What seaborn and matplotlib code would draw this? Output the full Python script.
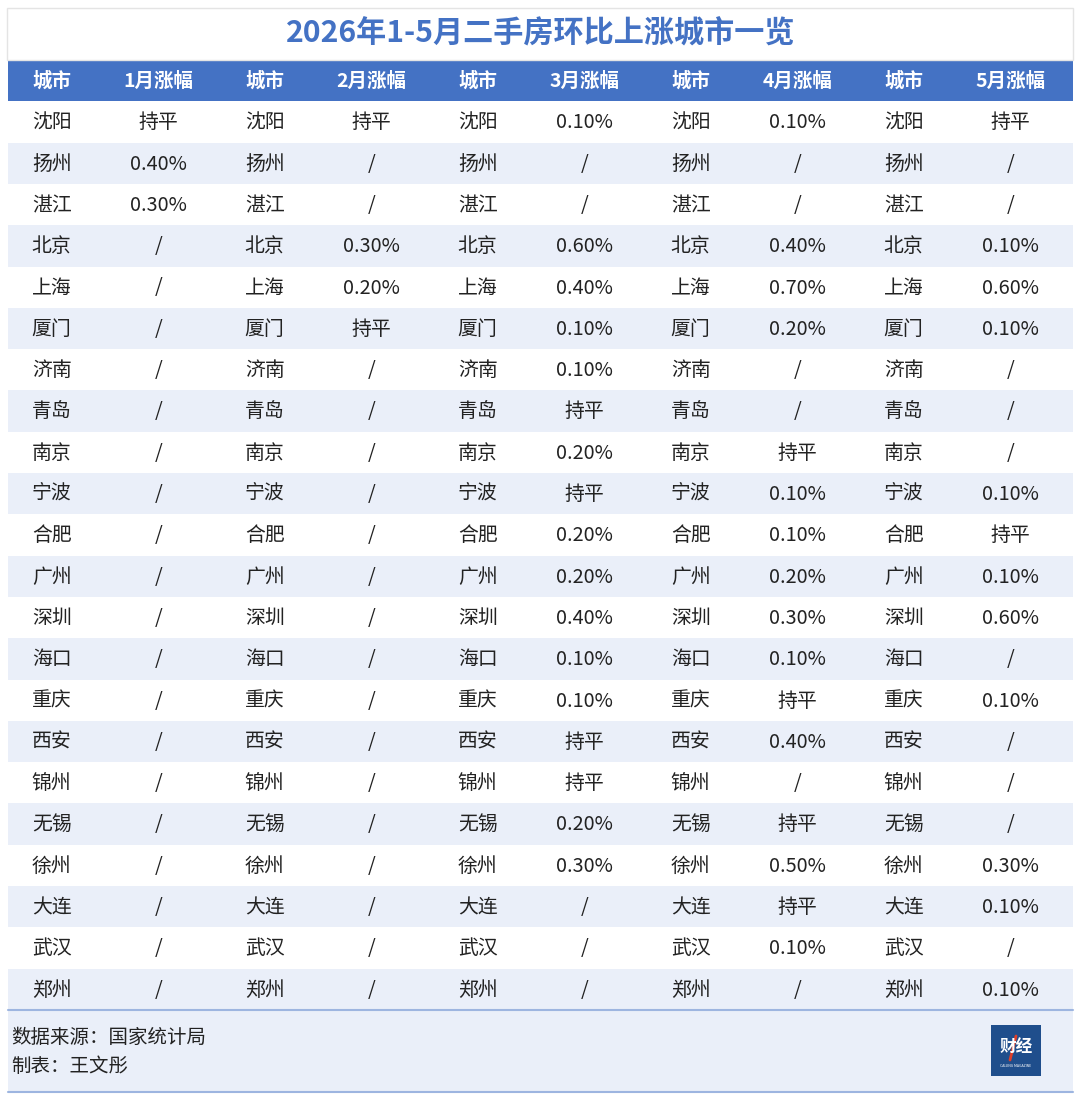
import numpy as np
import seaborn as sns
import matplotlib.pyplot as plt
from matplotlib.colors import ListedColormap
from matplotlib.patches import Rectangle

sns.set_style("white")
plt.rcParams['font.family'] = ['Noto Sans CJK SC', 'DejaVu Sans']

title = "2026年1-5月二手房环比上涨城市一览"
months = ["1月涨幅", "2月涨幅", "3月涨幅", "4月涨幅", "5月涨幅"]
cities = ["沈阳", "扬州", "湛江", "北京", "上海", "厦门", "济南", "青岛", "南京", "宁波", "合肥",
          "广州", "深圳", "海口", "重庆", "西安", "锦州", "无锡", "徐州", "大连", "武汉", "郑州"]
jan = ["持平", "0.40%", "0.30%", "/", "/", "/", "/", "/", "/", "/", "/",
       "/", "/", "/", "/", "/", "/", "/", "/", "/", "/", "/"]
feb = ["持平", "/", "/", "0.30%", "0.20%", "持平", "/", "/", "/", "/", "/",
       "/", "/", "/", "/", "/", "/", "/", "/", "/", "/", "/"]
mar = ["0.10%", "/", "/", "0.60%", "0.40%", "0.10%", "0.10%", "持平", "0.20%", "持平", "0.20%",
       "0.20%", "0.40%", "0.10%", "0.10%", "持平", "持平", "0.20%", "0.30%", "/", "/", "/"]
apr = ["0.10%", "/", "/", "0.40%", "0.70%", "0.20%", "/", "/", "持平", "0.10%", "0.10%",
       "0.20%", "0.30%", "0.10%", "持平", "0.40%", "/", "持平", "0.50%", "持平", "0.10%", "/"]
may = ["持平", "/", "/", "0.10%", "0.60%", "0.10%", "/", "/", "/", "0.10%", "持平",
       "0.10%", "0.60%", "/", "0.10%", "/", "/", "/", "0.30%", "0.10%", "/", "0.10%"]
source = "数据来源：国家统计局"
author = "制表：王文彤"

BLUE = "#4472C4"
LIGHT = "#EAEFF9"
TEXT = "#222222"

W, H = 1080, 1100
fig = plt.figure(figsize=(W / 100, H / 100), dpi=100)
fig.patch.set_facecolor("white")


def px_axes(x0, y0, x1, y1):
    return fig.add_axes([x0 / W, 1 - y1 / H, (x1 - x0) / W, (y1 - y0) / H])


# table grid: header row + 22 body rows, 10 columns
n_rows = len(cities) + 1
header = []
for m in months:
    header += ["城市", m]
cols = [jan, feb, mar, apr, may]
cells = [header]
for r, c in enumerate(cities):
    row = []
    for col in cols:
        row += [c, col[r]]
    cells.append(row)

shade = np.zeros((n_rows, 10))
for r in range(1, n_rows):
    shade[r, :] = 1 if r % 2 == 1 else 2

ax = px_axes(8, 60, 1073, 1010)
sns.heatmap(shade, ax=ax, cmap=ListedColormap([BLUE, "white", LIGHT]), vmin=0, vmax=2,
            cbar=False, linewidths=0, xticklabels=False, yticklabels=False)
ax.set_axis_off()
for r in range(n_rows):
    for i in range(10):
        if r == 0:
            ax.text(i + 0.41, r + 0.52, cells[r][i], ha="center", va="center",
                    fontsize=14, fontweight="bold", color="white")
        else:
            ax.text(i + 0.41, r + 0.52, cells[r][i], ha="center", va="center",
                    fontsize=14.3, color=TEXT)

# overlay for title, footer, logo
ov = fig.add_axes([0, 0, 1, 1], facecolor="none")
ov.set_xlim(0, W)
ov.set_ylim(H, 0)
ov.set_axis_off()
ov.add_patch(Rectangle((7, 8), 1066, 52, facecolor="white", edgecolor="#E4E4E4", lw=1))
ov.text(541, 34, title, ha="center", va="center", fontsize=21.7, fontweight="bold", color=BLUE)

ov.add_patch(Rectangle((8, 1010), 1065, 82, facecolor=LIGHT, edgecolor="none"))
ov.plot([8, 1073], [1010, 1010], color="#9DB5E0", lw=1.5)
ov.plot([8, 1073], [1092, 1092], color="#9DB5E0", lw=1.5)
ov.text(11, 1037, source, ha="left", va="center", fontsize=14, color=TEXT)
ov.text(11, 1067, author, ha="left", va="center", fontsize=14, color=TEXT)

ov.add_patch(Rectangle((991, 1025), 50, 51, facecolor="#1F4E8C", edgecolor="none"))
ov.text(1016, 1047, "财经", ha="center", va="center", fontsize=12, fontweight="bold", color="white")
ov.plot([1016, 1010], [1036, 1060], color="#E0402A", lw=2)
ov.text(1016, 1066, "CAIJING MAGAZINE", ha="center", va="center", fontsize=2.5, color="white")

fig.savefig("out.png", dpi=100)
